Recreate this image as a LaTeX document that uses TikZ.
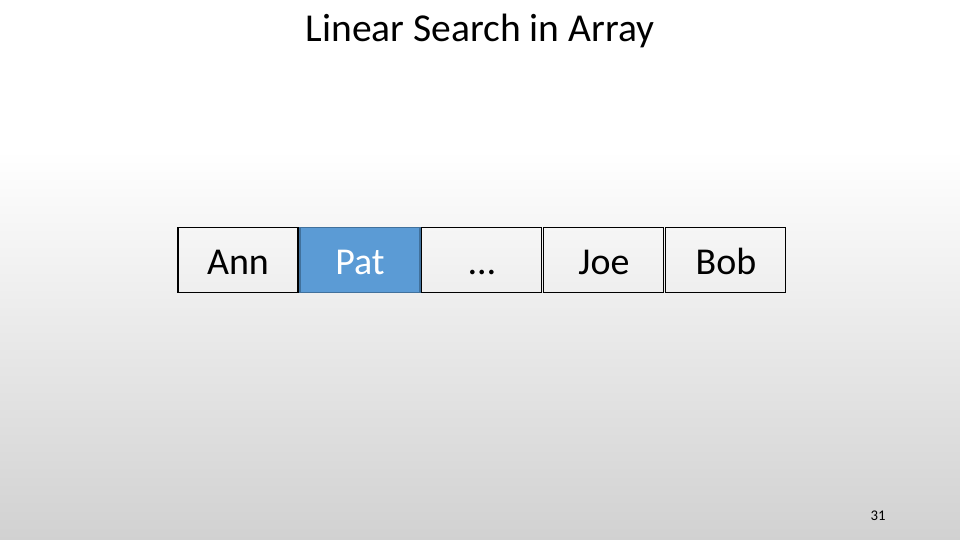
\documentclass[tikz,border=0pt]{standalone}
\usepackage{fontspec}
\setmainfont{Carlito}
\usepackage{xcolor}
\usetikzlibrary{positioning}

\definecolor{cellblue}{HTML}{5B9BD5}
\definecolor{cellborder}{HTML}{41719C}

\begin{document}
\begin{tikzpicture}[x=0.02cm,y=-0.02cm,
		cell/.style={draw=black,line width=0.6pt,outer sep=0pt,minimum width=2.4cm,minimum height=1.3cm,inner sep=0pt,text height=20pt,text depth=3pt,font=\fontsize{21.6}{24}\selectfont},
		hit/.style={cell,fill=cellblue,draw=cellborder,line width=1pt,text=white},
		title/.style={font=\fontsize{22.5}{26}\selectfont,anchor=base}]
			% slide background
			\useasboundingbox (0,0) rectangle (960,540);
			\fill[white] (0,0) rectangle (960,150);
			\shade[top color=white,bottom color=gray!36] (0,150) rectangle (960,540);

			\node[title] (head) at (480,42) {Linear Search in Array};

			% the array
			\node[cell] (ann) at (238,260) {Ann};
			\node[hit,right=0.04cm of ann] (pat) {Pat};
			\node[cell,right=0.04cm of pat] (dots) {…};
			\node[cell,right=0.04cm of dots] (joe) {Joe};
			\node[cell,right=0.04cm of joe] (bob) {Bob};

			\node[font=\fontsize{8.4}{10}\selectfont,anchor=base] (page) at (878,520) {31};
			\end{tikzpicture}
\end{document}
